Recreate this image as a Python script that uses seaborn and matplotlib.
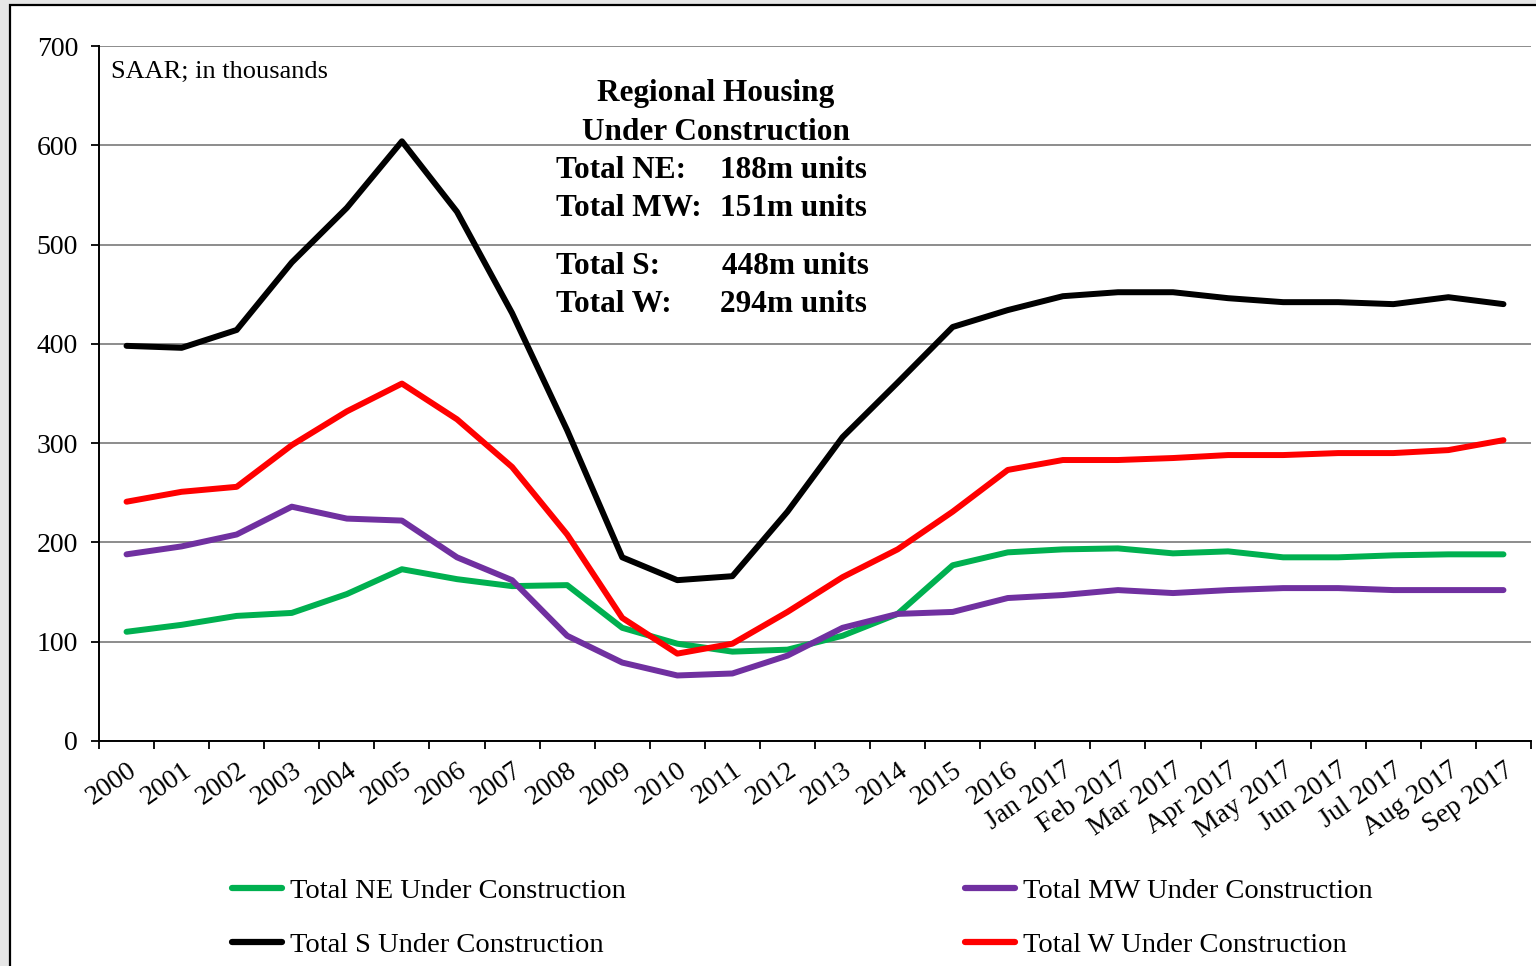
import matplotlib
matplotlib.use("Agg")
import matplotlib.pyplot as plt
from matplotlib.patches import Rectangle
from matplotlib.lines import Line2D
import seaborn as sns
import pandas as pd
import numpy as np

categories = ["2000", "2001", "2002", "2003", "2004", "2005", "2006", "2007", "2008",
              "2009", "2010", "2011", "2012", "2013", "2014", "2015", "2016",
              "Jan 2017", "Feb 2017", "Mar 2017", "Apr 2017", "May 2017", "Jun 2017",
              "Jul 2017", "Aug 2017", "Sep 2017"]

ne_values = [110, 117, 126, 129, 148, 173, 163, 156, 157, 114, 98, 90, 92, 106, 128, 177, 190,
             193, 194, 189, 191, 185, 185, 187, 188, 188]
mw_values = [188, 196, 208, 236, 224, 222, 185, 162, 106, 79, 66, 68, 86, 114, 128, 130, 144,
             147, 152, 149, 152, 154, 154, 152, 152, 152]
s_values = [398, 396, 414, 482, 537, 604, 533, 431, 313, 185, 162, 166, 231, 306, 361, 417, 434,
            448, 452, 452, 446, 442, 442, 440, 447, 440]
w_values = [241, 251, 256, 298, 332, 360, 324, 276, 208, 124, 88, 98, 130, 165, 193, 231, 273,
            283, 283, 285, 288, 288, 290, 290, 293, 303]

series_names = ["Total NE Under Construction", "Total MW Under Construction",
                "Total S Under Construction", "Total W Under Construction"]
series_values = [ne_values, mw_values, s_values, w_values]
series_colors = ["#00B050", "#7030A0", "#000000", "#FF0000"]
yticks = [0, 100, 200, 300, 400, 500, 600, 700]

rows = []
for name, vals in zip(series_names, series_values):
    for i, v in enumerate(vals):
        rows.append({"idx": i, "value": v, "series": name})
df = pd.DataFrame(rows)

sns.set_theme(style="white")
plt.rcParams["font.family"] = ["Liberation Serif", "DejaVu Serif"]
plt.rcParams["text.color"] = "black"
plt.rcParams["xtick.color"] = "black"
plt.rcParams["ytick.color"] = "black"
plt.rcParams["axes.labelcolor"] = "black"

W, H = 1536, 966
fig = plt.figure(figsize=(W / 100, H / 100), dpi=100)
fig.patch.set_facecolor("#e6e6e6")
fig.patches.append(Rectangle((10 / W, -0.05), 1.1, 1 - 5 / H + 0.05, transform=fig.transFigure,
                             facecolor="white", edgecolor="black", linewidth=1.6, zorder=-5))

ax = fig.add_axes([99 / W, 1 - 741 / H, (1531 - 99) / W, (741 - 46) / H])
ax.set_zorder(2)
ax.patch.set_alpha(0)

sns.lineplot(data=df, x="idx", y="value", hue="series", hue_order=series_names,
             palette=series_colors, linewidth=4.3, ax=ax, legend=False, zorder=3)

n = len(categories)
ax.set_xlim(-0.5, n - 0.5)
ax.set_ylim(0, 700)
ax.set_yticks(yticks)
ax.set_yticklabels([str(t) for t in yticks], fontsize=20)
ax.yaxis.grid(True, color="#8c8c8c", linewidth=1.4, zorder=1)
ax.set_axisbelow(True)

ax.set_xticks(np.arange(n))
ax.set_xticklabels(categories, fontsize=20, rotation=35, ha="right", va="top",
                   rotation_mode="anchor")
ax.set_xticks(np.arange(n + 1) - 0.5, minor=True)
ax.tick_params(axis="x", which="major", length=0, pad=12)
ax.tick_params(axis="x", which="minor", length=6, width=1.3, color="black", direction="out",
               bottom=True)
ax.tick_params(axis="y", which="major", length=6, width=1.3, color="black", direction="out",
               pad=9, left=True)
ax.set_xlabel("")
ax.set_ylabel("")

for side in ["top", "right"]:
    ax.spines[side].set_visible(False)
for side in ["left", "bottom"]:
    ax.spines[side].set_visible(True)
    ax.spines[side].set_color("black")
    ax.spines[side].set_linewidth(1.4)

def fx(x):
    return x / W

def fy(y):
    return 1 - y / H

fig.text(fx(111), fy(72), "SAAR; in thousands", fontsize=19, ha="left", va="center")

bold = dict(fontsize=22.5, fontweight="bold", va="center")
fig.text(fx(716), fy(93), "Regional Housing", ha="center", **bold)
fig.text(fx(716), fy(132), "Under Construction", ha="center", **bold)
fig.text(fx(556), fy(170), "Total NE:", ha="left", **bold)
fig.text(fx(720), fy(170), "188m units", ha="left", **bold)
fig.text(fx(556), fy(208), "Total MW:", ha="left", **bold)
fig.text(fx(720), fy(208), "151m units", ha="left", **bold)
fig.text(fx(556), fy(266), "Total S:", ha="left", **bold)
fig.text(fx(722), fy(266), "448m units", ha="left", **bold)
fig.text(fx(556), fy(304), "Total W:", ha="left", **bold)
fig.text(fx(720), fy(304), "294m units", ha="left", **bold)

handles = [Line2D([0], [0], color=c, linewidth=4.5, solid_capstyle="round") for c in series_colors]
order = [0, 2, 1, 3]
leg = fig.legend([handles[i] for i in order], [series_names[i] for i in order],
                 ncol=2, loc="upper left", bbox_to_anchor=(fx(232), fy(878)),
                 frameon=False, fontsize=20.5, handlelength=1.75, handletextpad=0.3,
                 columnspacing=11.9, labelspacing=1.0, borderaxespad=0, borderpad=0)

fig.savefig("out.png", dpi=100, facecolor=fig.get_facecolor())
